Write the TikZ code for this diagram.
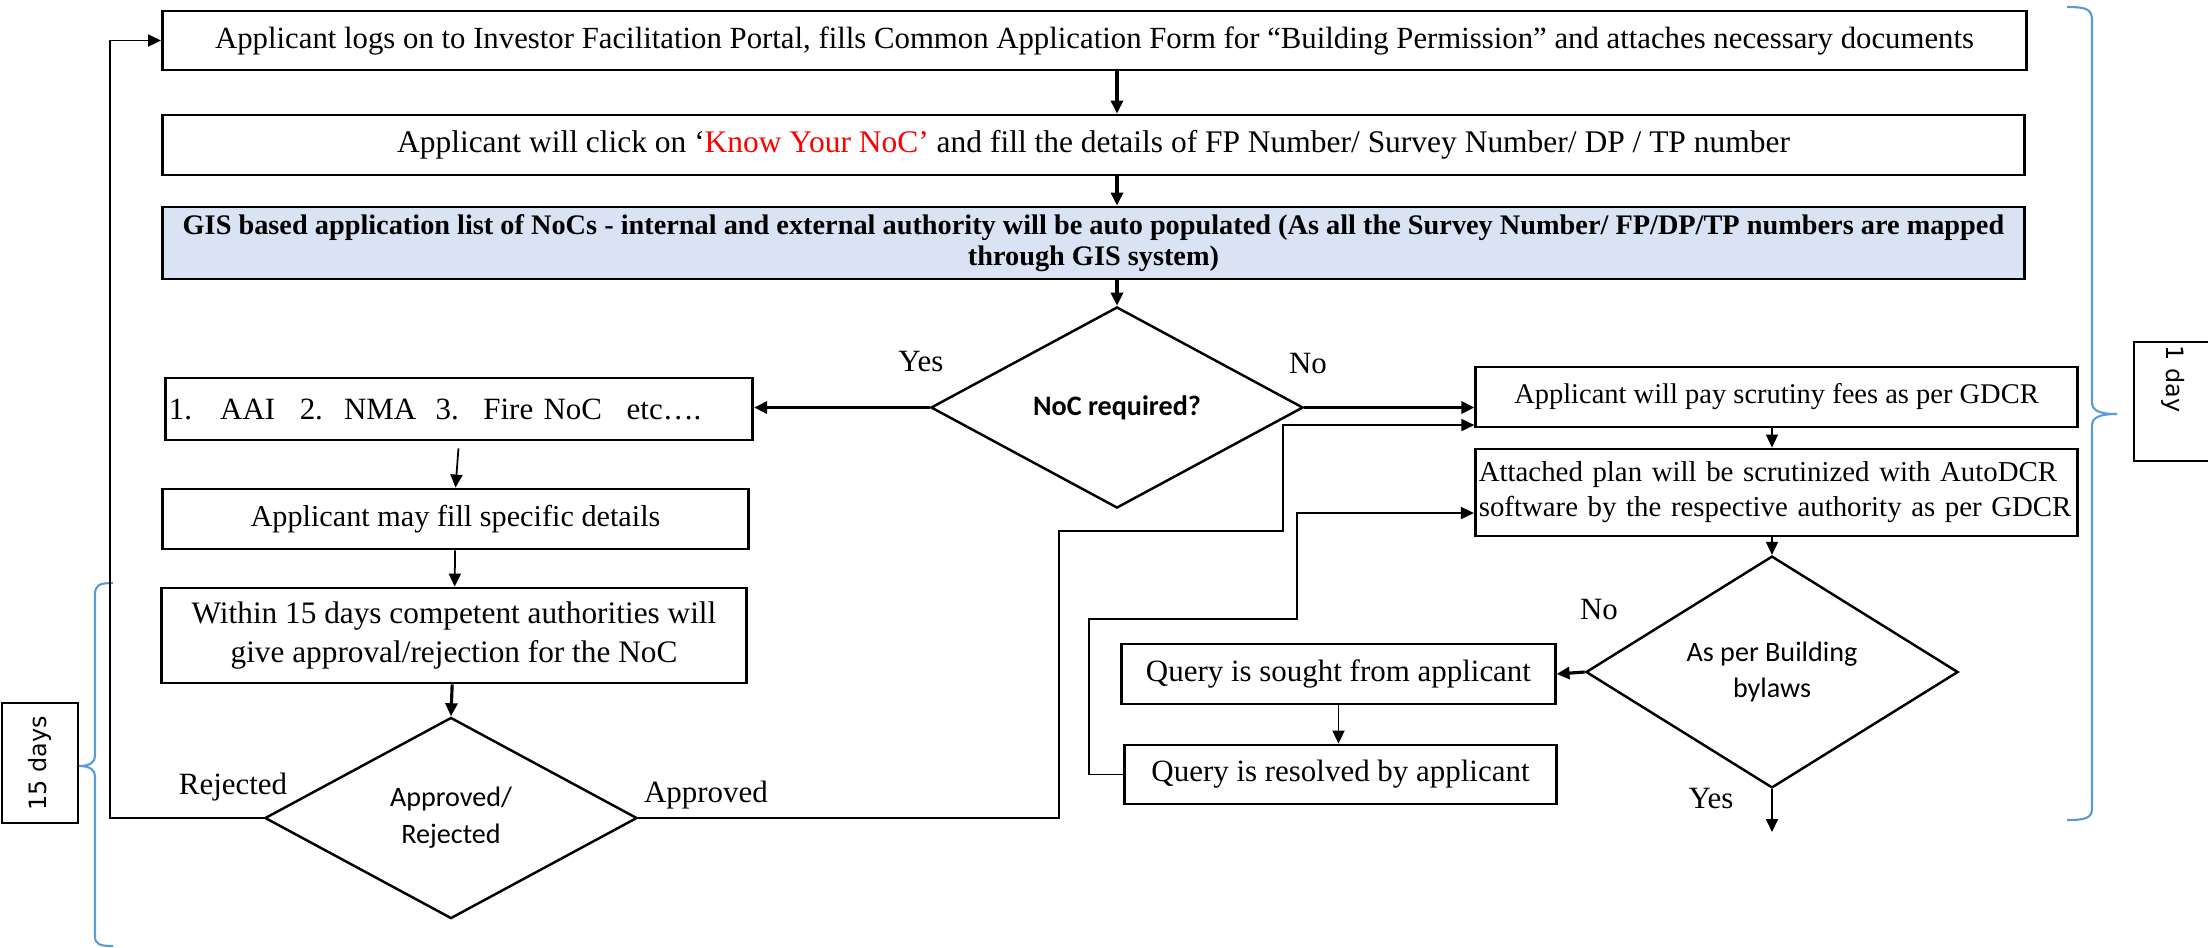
\documentclass[tikz,border=0pt]{standalone}
\usepackage{fontspec}
\setmainfont{Liberation Serif}
\newfontfamily\calibfont{Carlito}
\newfontfamily\daysfont{DejaVu Sans}
\usetikzlibrary{shapes.geometric,arrows.meta}
\definecolor{gisblue}{HTML}{DAE3F3}
\definecolor{bracecol}{HTML}{5B9BD5}

\begin{document}
\begin{tikzpicture}[x=0.01cm,y=-0.01cm,
  >={Triangle[length=1.3mm,width=1.2mm]},
  stepbox/.style={draw,line width=0.8pt,align=center,inner sep=1pt,font=\fontsize{8.8}{11}\selectfont},
  query/.style={diamond,draw,line width=0.7pt,inner sep=0pt,minimum width=3.72cm,minimum height=2.01cm,align=center,font=\calibfont\fontsize{8}{10.5}\selectfont},
  tag/.style={font=\fontsize{8.8}{10}\selectfont},
  link/.style={line width=0.5pt},
  heavy/.style={line width=0.9pt},
  daybox/.style={draw,line width=0.4pt,inner sep=0pt,font=\daysfont\fontsize{6.8}{8}\selectfont},
  span/.style={draw=bracecol,line width=0.6pt}]
\useasboundingbox (0,0) rectangle (2208,947);

% main column
\node[stepbox,minimum width=18.63cm,minimum height=0.59cm,font=\fontsize{8.75}{11}\selectfont] (apply) at (1094.5,40.5) {Applicant logs on to Investor Facilitation Portal, fills Common Application Form for “Building Permission” and attaches necessary documents};
\node[stepbox,minimum width=18.61cm,minimum height=0.6cm,font=\fontsize{8.95}{11}\selectfont] (know) at (1093.5,145) {Applicant will click on ‘\textcolor{red}{Know Your NoC'} and fill the details of FP Number/ Survey Number/ DP / TP number};
\node[stepbox,fill=gisblue,minimum width=18.61cm,minimum height=0.72cm,font=\bfseries\fontsize{8.05}{9}\selectfont] (gis) at (1093.5,243) {GIS based application list of NoCs - internal and external authority will be auto populated (As all the Survey Number/ FP/DP/TP numbers are mapped\\through GIS system)};
\node[query,font=\calibfont\bfseries\fontsize{8}{10}\selectfont] (noc) at (1117,407.5) {NoC required?};

% NoC branch
\node[stepbox,minimum width=5.86cm,minimum height=0.62cm,text width=5.8cm,align=left] (list) at (459,409) {1.\hspace{8pt}AAI\hspace{7pt}2.\hspace{6pt}NMA\hspace{5.5pt}3.\hspace{7pt}Fire NoC\hspace{7pt}etc….};
\node[stepbox,minimum width=5.85cm,minimum height=0.6cm,font=\fontsize{8.6}{11}\selectfont] (detail) at (455.5,519) {Applicant may fill specific details};
\node[stepbox,minimum width=5.84cm,minimum height=0.95cm,font=\fontsize{8.9}{11.2}\selectfont] (within) at (454,635.5) {Within 15 days competent authorities will\\give approval/rejection for the NoC};
\node[query] (verdict) at (451,818) {Approved/\\Rejected};

% scrutiny branch
\node[stepbox,minimum width=6.01cm,minimum height=0.6cm,font=\fontsize{8.1}{10}\selectfont] (fees) at (1776.5,397) {Applicant will pay scrutiny fees as per GDCR};
\node[stepbox,minimum width=6.01cm,minimum height=0.87cm,text width=5.95cm,align=left,font=\fontsize{8.2}{10}\selectfont] (plan) at (1776.5,492.5) {Attached plan will be scrutinized with AutoDCR\\software by the respective authority as per GDCR};
\node[query] (bylaw) at (1772,672) {As per Building\\bylaws};
\node[stepbox,minimum width=4.33cm,minimum height=0.6cm] (sought) at (1338.5,674) {Query is sought from applicant};
\node[stepbox,minimum width=4.31cm,minimum height=0.59cm] (resolved) at (1340.5,774.5) {Query is resolved by applicant};

% labels
\node[tag] (yes1) at (921,361) {Yes};
\node[tag] (no1) at (1308,363) {No};
\node[tag] (rej) at (233,787) {Rejected};
\node[tag] (appr) at (706,795) {Approved};
\node[tag] (no2) at (1599,609) {No};
\node[tag] (yes2) at (1711,798) {Yes};

% time spans
\node[daybox,minimum width=0.76cm,minimum height=1.2cm] (fifteen) at (40,763) {\rotatebox{90}{15 days}};
\node[daybox,minimum width=0.78cm,minimum height=1.19cm] (oneday) at (2173,401.5) {\rotatebox{-90}{1 day\hspace{0.45cm}}};
\draw[span] (2067,7) .. controls (2086,7) and (2092,9) .. (2092,20) -- (2092,402)
  .. controls (2092,410) and (2098,414) .. (2117,414)
  .. controls (2098,414) and (2092,418) .. (2092,426) -- (2092,808)
  .. controls (2092,818) and (2086,820) .. (2067,820);
\draw[span] (113,583) .. controls (99,583) and (95,585) .. (95,595) -- (95,756)
  .. controls (95,762) and (90,766) .. (79,766)
  .. controls (90,766) and (95,770) .. (95,776) -- (95,936)
  .. controls (95,944) and (99,946) .. (113,946);

% connectors
\coordinate (back) at (110,40.5);
\coordinate (a1) at (1059,531);
\coordinate (a2) at (1283,425);
\coordinate (q1) at (1089,619);
\coordinate (q2) at (1297,513);
\coordinate (exit) at (1772,832);
\draw[heavy,->] (apply.south -| noc) -- (know.north -| noc);
\draw[heavy,->] (know.south -| noc) -- (gis.north -| noc);
\draw[heavy,->] (gis.south -| noc) -- (noc.north);
\draw[heavy,->] (noc.west) -- (noc.west -| list.east);
\draw[link,->,shorten <=0.07cm] (list.south) -- (detail.north);
\draw[link,->] (detail) -- (within);
\draw[heavy,->] (within) -- (verdict.north);
\draw[link,->] (verdict.west) -| (back) -- (apply.west);
\draw[link,->] (verdict.east) -| (a1) -| (a2) -- (a2 -| fees.west);
\draw[heavy,->] (noc.east) -- (noc.east -| fees.west);
\draw[link,->] (fees.south -| bylaw) -- (plan.north -| bylaw);
\draw[link,->] (plan.south -| bylaw) -- (bylaw.north);
\draw[heavy,->] (bylaw.west) -- (sought.east);
\draw[link,->] (sought.south) -- (sought.south |- resolved.north);
\draw[link,->] (resolved.west) -| (q1) -| (q2) -- (q2 -| plan.west);
\draw[link,->] (bylaw.south) -- (exit);
\end{tikzpicture}
\end{document}
